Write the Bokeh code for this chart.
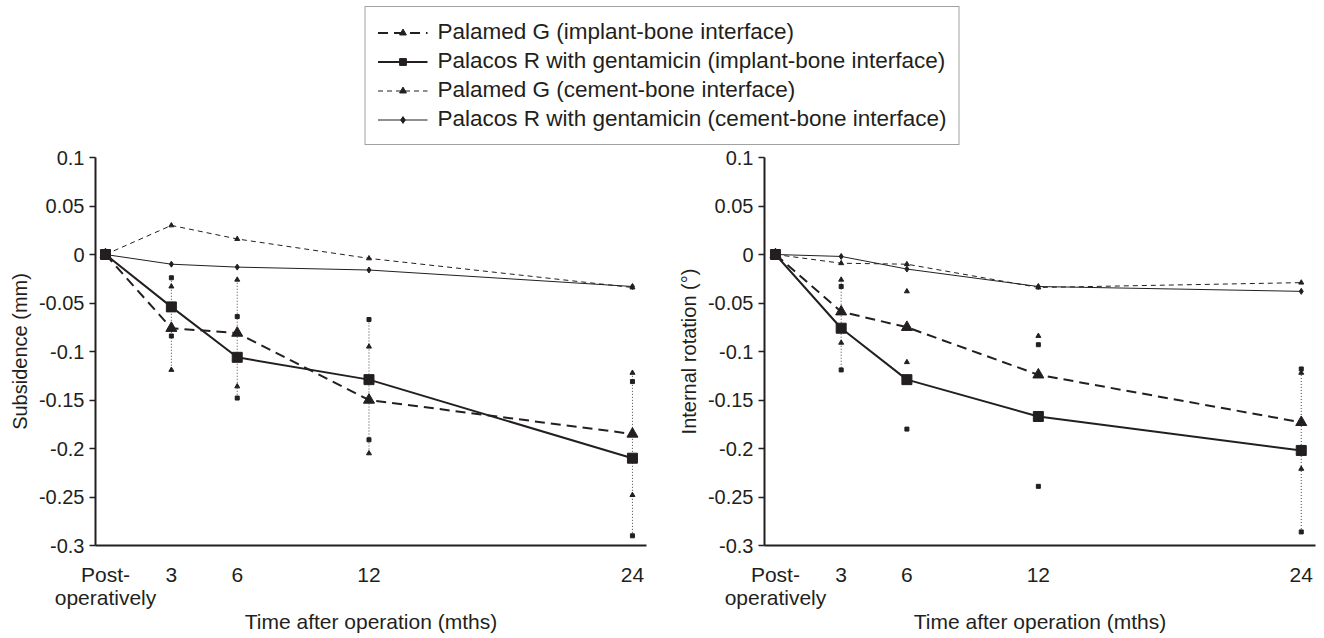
import math
from bokeh.plotting import figure
from bokeh.layouts import column, row
from bokeh.models import (Legend, LegendItem, FixedTicker, CustomJSTickFormatter,
                          Range1d)
from bokeh.embed import file_html
from bokeh.resources import INLINE

nan = float("nan")

# ---------------- data ----------------
months = [0, 3, 6, 12, 24]
x_tick_labels = ["Post-\noperatively", "3", "6", "12", "24"]
y_ticks = [0.1, 0.05, 0, -0.05, -0.1, -0.15, -0.2, -0.25, -0.3]

series_labels = [
    "Palamed G (implant-bone interface)",
    "Palacos R with gentamicin (implant-bone interface)",
    "Palamed G (cement-bone interface)",
    "Palacos R with gentamicin (cement-bone interface)",
]

# Subsidence (mm)
sub_pg_implant = [0, -0.076, -0.081, -0.150, -0.185]
sub_pr_implant = [0, -0.054, -0.106, -0.129, -0.210]
sub_pg_cement = [0, 0.030, 0.016, -0.004, -0.034]
sub_pr_cement = [0, -0.010, -0.013, -0.016, -0.033]

err_months = [3, 6, 12, 24]
sub_pg_upper = [-0.033, -0.026, -0.095, -0.122]
sub_pg_lower = [-0.119, -0.136, -0.205, -0.248]
sub_pr_upper = [-0.024, -0.064, -0.067, -0.131]
sub_pr_lower = [-0.084, -0.148, -0.191, -0.290]
sub_dotted = [True, True, True, True]

# Internal rotation (deg)
rot_pg_implant = [0, -0.059, -0.075, -0.124, -0.173]
rot_pr_implant = [0, -0.076, -0.129, -0.167, -0.202]
rot_pg_cement = [0, -0.009, -0.010, -0.034, -0.029]
rot_pr_cement = [0, -0.002, -0.015, -0.033, -0.038]

rot_pg_upper = [-0.026, -0.038, -0.084, -0.122]
rot_pg_lower = [-0.091, -0.111, nan, -0.221]
rot_pr_upper = [-0.033, nan, -0.093, -0.118]
rot_pr_lower = [-0.119, -0.180, -0.239, -0.286]
rot_dotted = [True, False, False, True]

INK = "#231f20"
FONT = "Liberation Sans"


def style_line(kind):
    if kind == "pg_i":
        return dict(line_width=2, line_dash="10 6")
    if kind == "pr_i":
        return dict(line_width=2)
    if kind == "pg_c":
        return dict(line_width=1, line_dash="5 4")
    return dict(line_width=1)


def style_marker(kind):
    if kind == "pg_i":
        return dict(marker="triangle", size=11)
    if kind == "pr_i":
        return dict(marker="square", size=10)
    if kind == "pg_c":
        return dict(marker="triangle", size=5)
    return dict(marker="diamond", size=6)


PLOT_H = 491


def make_panel(y_title, pg_i, pr_i, pg_c, pr_c, pg_up, pg_lo, pr_up, pr_lo,
               dotted, width, b_left, b_right, x_start, x_end):
    p = figure(width=width, height=PLOT_H, output_backend="svg", toolbar_location=None,
               x_range=Range1d(x_start, x_end), y_range=Range1d(-0.3, 0.1),
               min_border_left=b_left, min_border_right=b_right,
               min_border_top=10, min_border_bottom=93)
    p.grid.visible = False
    p.outline_line_color = None

    # dotted spread lines
    seg_x, seg_top, seg_bot = [], [], []
    for m, a, b, c, d, show in zip(err_months, pg_up, pg_lo, pr_up, pr_lo, dotted):
        if not show:
            continue
        vals = [v for v in (a, b, c, d) if not math.isnan(v)]
        seg_x.append(m)
        seg_top.append(max(vals))
        seg_bot.append(min(vals))
    p.segment(x0=seg_x, y0=seg_top, x1=seg_x, y1=seg_bot,
              line_color="#444444", line_width=1, line_dash="1 2")

    # spread end markers
    p.scatter(err_months, pg_up, marker="triangle", size=5, color=INK)
    p.scatter(err_months, pg_lo, marker="triangle", size=5, color=INK)
    p.scatter(err_months, pr_up, marker="square", size=4, color=INK)
    p.scatter(err_months, pr_lo, marker="square", size=4, color=INK)

    for vals, kind in ((pg_c, "pg_c"), (pr_c, "pr_c"), (pg_i, "pg_i"), (pr_i, "pr_i")):
        p.line(months, vals, line_color=INK, **style_line(kind))
        p.scatter(months, vals, color=INK, **style_marker(kind))

    # y axis
    ya = p.yaxis[0]
    ya.ticker = FixedTicker(ticks=y_ticks)
    ya.formatter = CustomJSTickFormatter(code="return Number(tick.toFixed(2)).toString();")
    ya.axis_line_color = INK
    ya.axis_line_width = 2
    ya.major_tick_line_color = INK
    ya.major_tick_line_width = 1.5
    ya.major_tick_out = 6
    ya.major_tick_in = 0
    ya.minor_tick_line_color = None
    ya.major_label_text_font = FONT
    ya.major_label_text_font_size = "20px"
    ya.major_label_text_color = INK
    ya.major_label_standoff = 5
    ya.axis_label = y_title
    ya.axis_label_text_font = FONT
    ya.axis_label_text_font_size = "20px"
    ya.axis_label_text_font_style = "normal"
    ya.axis_label_text_color = INK
    ya.axis_label_standoff = 5

    # x axis
    xa = p.xaxis[0]
    xa.ticker = FixedTicker(ticks=months)
    xa.major_label_overrides = {m: lab for m, lab in zip(months, x_tick_labels)}
    xa.axis_line_color = INK
    xa.axis_line_width = 2
    xa.major_tick_line_color = None
    xa.major_tick_out = 0
    xa.major_tick_in = 0
    xa.minor_tick_line_color = None
    xa.major_label_text_font = FONT
    xa.major_label_text_font_size = "21px"
    xa.major_label_text_line_height = 1.0
    xa.major_label_text_color = INK
    xa.major_label_standoff = 17
    xa.axis_label = "Time after operation (mths)"
    xa.axis_label_text_font = FONT
    xa.axis_label_text_font_size = "21px"
    xa.axis_label_text_font_style = "normal"
    xa.axis_label_text_color = INK
    xa.axis_label_standoff = -2
    return p


p1 = make_panel("Subsidence (mm)", sub_pg_implant, sub_pr_implant, sub_pg_cement,
                sub_pr_cement, sub_pg_upper, sub_pg_lower, sub_pr_upper, sub_pr_lower,
                sub_dotted, 655, 95, 9, -0.455, 24.64)
p2 = make_panel("Internal rotation (\u00b0)", rot_pg_implant, rot_pr_implant, rot_pg_cement,
                rot_pr_cement, rot_pg_upper, rot_pg_lower, rot_pr_upper, rot_pr_lower,
                rot_dotted, 669, 109, 9, -0.5, 24.65)

# ---------------- legend strip ----------------
# legend renderers draw the subsidence series outside this strip's visible range
lf = figure(width=1324, height=638 - PLOT_H, output_backend="svg", toolbar_location=None,
            x_range=Range1d(1000, 1001), y_range=Range1d(1000, 1001), min_border=0)
lf.axis.visible = False
lf.grid.visible = False
lf.outline_line_color = None

items = []
for lab, kind, vals in zip(series_labels, ("pg_i", "pr_i", "pg_c", "pr_c"),
                           (sub_pg_implant, sub_pr_implant, sub_pg_cement, sub_pr_cement)):
    lr = lf.line(months, vals, line_color=INK, **style_line(kind))
    sr = lf.scatter(months, vals, color=INK, **style_marker(kind))
    items.append(LegendItem(label=lab, renderers=[lr, sr]))

legend = Legend(items=items, location="top_center", margin=6, padding=12,
                spacing=3, glyph_width=50, glyph_height=17, label_height=26,
                label_standoff=10, border_line_color="#444444", border_line_width=1.5,
                label_text_font=FONT, label_text_font_size="22.5px",
                label_text_color=INK, background_fill_alpha=1.0)
lf.add_layout(legend)

layout = column(lf, row(p1, p2, spacing=0), spacing=0)

open("out.html", "w").write(file_html(layout, INLINE))
